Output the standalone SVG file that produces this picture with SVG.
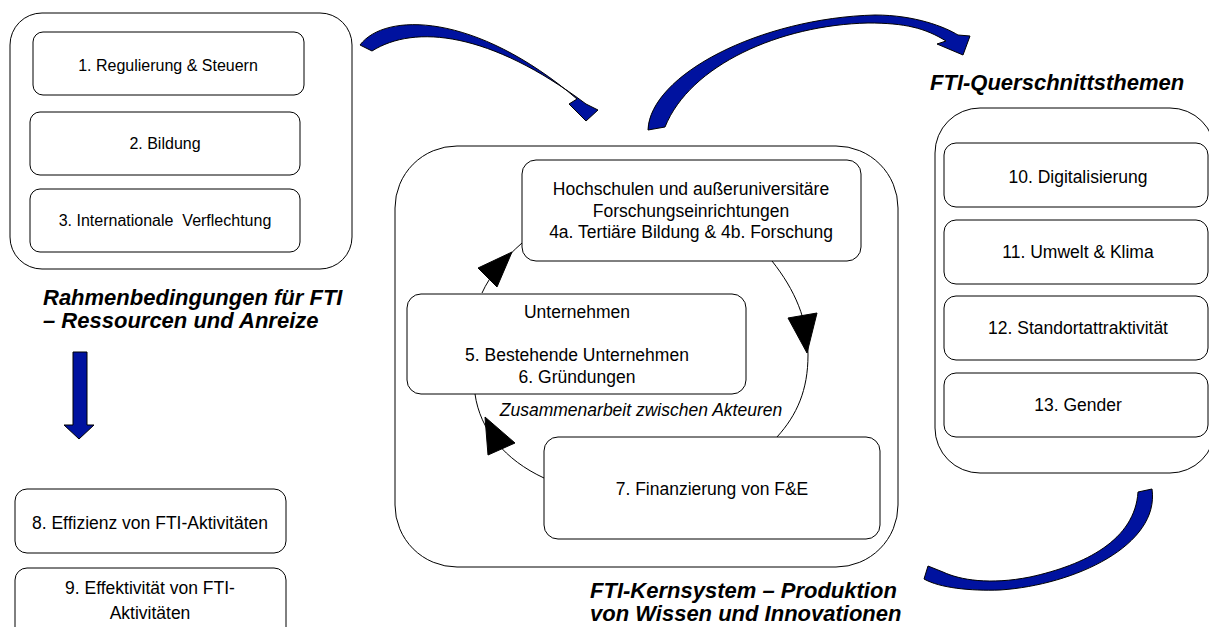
<svg xmlns="http://www.w3.org/2000/svg" width="1209" height="627" viewBox="0 0 1209 627">
<style>
.box{fill:#fff;stroke:#000;stroke-width:1}
.t{font-family:"Liberation Sans",Arial,sans-serif;font-size:17.5px;text-anchor:middle;fill:#000}
.s{font-size:16px}
.i{font-style:italic}
.title{font-family:"Liberation Sans",Arial,sans-serif;font-weight:bold;font-style:italic;font-size:22px;fill:#000}
.big{fill:#00129F;stroke:#000;stroke-width:1;stroke-linejoin:round}
.cyc{fill:none;stroke:#000;stroke-width:1}
.head{fill:#000;stroke:#000;stroke-width:1;stroke-linejoin:miter}
</style>
<rect width="1209" height="627" fill="#fff"/>

<g id="rahmen">
  <rect class="box" x="10" y="13" width="342" height="256" rx="32"/>
  <text class="title" x="43" y="305">Rahmenbedingungen für FTI</text>
  <text class="title" x="43" y="328">– Ressourcen und Anreize</text>
</g>
<g id="n1"><rect class="box" x="33" y="32" width="271" height="63" rx="10"/><text class="t s" x="168" y="71">1. Regulierung &amp; Steuern</text></g>
<g id="n2"><rect class="box" x="30" y="112" width="270" height="63" rx="10"/><text class="t s" x="165" y="149">2. Bildung</text></g>
<g id="n3"><rect class="box" x="30" y="189" width="270" height="63" rx="10"/><text class="t s" x="165" y="226" xml:space="preserve">3. Internationale  Verflechtung</text></g>

<g id="n8"><rect class="box" x="15" y="489" width="271" height="64" rx="12"/><text class="t" x="150" y="529">8. Effizienz von FTI-Aktivitäten</text></g>
<g id="n9"><rect class="box" x="15" y="568" width="271" height="72" rx="12"/><text class="t" x="150" y="594">9. Effektivität von FTI-</text><text class="t" x="150" y="619">Aktivitäten</text></g>

<g id="kern">
  <rect class="box" x="395" y="146" width="503" height="421" rx="62"/>
  <text class="title" x="590" y="598">FTI-Kernsystem – Produktion</text>
  <text class="title" x="590" y="621">von Wissen und Innovationen</text>
</g>

<g id="connectors">
  <path class="cyc" d="M772,261 C795,290 808,320 808,355 C808,390 797,415 777,437"/>
  <polygon class="head" points="788,318 817,313 807,353"/>
  <path class="cyc" d="M544,478 C505,460 480,430 475,394"/>
  <polygon class="head" points="485,417 488,455 515,443"/>
  <path class="cyc" d="M482,293 C490,275 505,258 522,243"/>
  <polygon class="head" points="478,268 497,287 512,252"/>
  <polygon class="big" points="73,352 87,352 87,425 94,425 79,439 64,425 73,425"/>
  <path class="big" d="M360,45 C385,12 475,12 577,99 L569,104 L586,121 L598,110 L586,104 C490,32 415,24 372,51 Z"/>
  <path class="big" d="M648,130 C650,75 760,18 875,15 C915,15 945,27 958,35 L970,36 L963,55 L937,44 L946,41 C925,28 905,23 868,23 C780,25 690,65 665,127 Z"/>
  <path class="big" d="M1138,492 L1152,489 C1160,545 1075,585 1000,590 C970,591 940,588 924,579 L928,566 L943,572 C960,580 990,585 1030,577 C1085,565 1135,540 1138,492 Z"/>
</g>

<g id="n4"><rect class="box" x="522" y="160" width="339" height="101" rx="14"/><text class="t" x="691" y="195">Hochschulen und außeruniversitäre</text><text class="t" x="691" y="217">Forschungseinrichtungen</text><text class="t" x="691" y="238">4a. Tertiäre Bildung &amp; 4b. Forschung</text></g>
<g id="n5"><rect class="box" x="407" y="294" width="339" height="100" rx="14"/><text class="t" x="577" y="318">Unternehmen</text><text class="t" x="577" y="361">5. Bestehende Unternehmen</text><text class="t" x="577" y="383">6. Gründungen</text></g>
<g id="n7"><rect class="box" x="544" y="437" width="336" height="102" rx="14"/><text class="t" x="712" y="495">7. Finanzierung von F&amp;E</text></g>
<g id="label-zusammenarbeit"><text class="t i" x="641" y="416">Zusammenarbeit zwischen Akteuren</text></g>

<g id="quer">
  <rect class="box" x="935" y="108" width="280" height="365" rx="45"/>
  <text class="title" x="930" y="90">FTI-Querschnittsthemen</text>
</g>
<g id="n10"><rect class="box" x="944" y="143" width="264" height="64" rx="12"/><text class="t" x="1078" y="183">10. Digitalisierung</text></g>
<g id="n11"><rect class="box" x="944" y="220" width="264" height="64" rx="12"/><text class="t" x="1078" y="258">11. Umwelt &amp; Klima</text></g>
<g id="n12"><rect class="box" x="944" y="296" width="264" height="64" rx="12"/><text class="t" x="1078" y="334">12. Standortattraktivität</text></g>
<g id="n13"><rect class="box" x="944" y="373" width="264" height="64" rx="12"/><text class="t" x="1078" y="411">13. Gender</text></g>
</svg>
